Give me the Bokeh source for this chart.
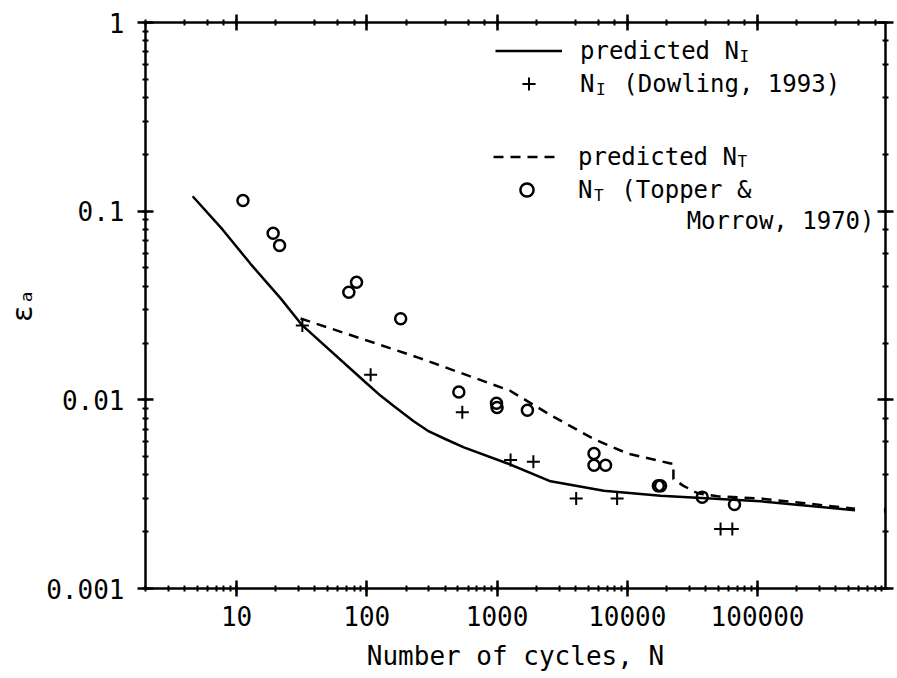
from bokeh.plotting import figure
from bokeh.models import (LogAxis, CustomJSTickFormatter, Legend, LegendItem, Label)
from bokeh.embed import file_html
from bokeh.resources import INLINE

# ---- data ----
solid_x = [4.6, 7.8, 12.8, 21.8, 32, 100, 128, 160, 229, 300, 400, 556, 1205, 2577, 6600, 18000, 105000, 560000]
solid_y = [0.120, 0.080, 0.0526, 0.0345, 0.0248, 0.0122, 0.0105, 0.0093, 0.0077, 0.0068, 0.0062, 0.0056, 0.0046, 0.0037, 0.0033, 0.0031, 0.0029, 0.0026]

dash_x = [31, 245, 1250, 2577, 5530, 10000, 21500, 22600, 22600, 27000, 34600, 49300, 105000, 560000]
dash_y = [0.027, 0.0168, 0.0112, 0.0083, 0.0062, 0.0052, 0.0046, 0.0046, 0.0038, 0.0035, 0.0032, 0.00308, 0.0030, 0.00265]

plus_x = [32, 107, 541, 1270, 1900, 4050, 8350, 52000, 64000]
plus_y = [0.0248, 0.0136, 0.0086, 0.0048, 0.0047, 0.0030, 0.0030, 0.00207, 0.00207]

circ_x = [11.2, 19.1, 21.4, 72.8, 83.4, 182, 509, 990, 1000, 1710, 5550, 5550, 6810, 17300, 18000, 37600, 66500, 1.05e6]
circ_y = [0.114, 0.0764, 0.0658, 0.0372, 0.042, 0.0269, 0.0110, 0.0096, 0.0091, 0.0088, 0.0052, 0.0045, 0.0045, 0.0035, 0.0035, 0.00305, 0.00279, 0.00259]

x_title = "Number of cycles, N"
y_title = "εₐ"
legend_labels = ["predicted N", "N  (Dowling, 1993)", "predicted N", "N  (Topper &"]
legend_subs = ["I", "I", "T", "T"]
legend_extra = "Morrow, 1970)"

FONT = "DejaVu Sans Mono"

p = figure(width=897, height=678, x_axis_type="log", y_axis_type="log",
           x_range=(2, 9.6e5), y_range=(0.001, 1),
           output_backend="svg", toolbar_location=None,
           min_border_left=145, min_border_right=12, min_border_top=22, min_border_bottom=90)
p.grid.visible = False
p.outline_line_color = None
p.background_fill_color = "white"
p.border_fill_color = "white"

fmt_js = "return String(Number(tick.toPrecision(10)));"

def style_axis(ax, labels=True, out=8):
    ax.axis_line_width = 2.5
    ax.axis_line_color = "black"
    ax.major_tick_line_width = 2.5
    ax.major_tick_line_color = "black"
    ax.minor_tick_line_width = 2
    ax.minor_tick_line_color = "black"
    ax.major_tick_in = 8
    ax.major_tick_out = out
    ax.minor_tick_in = 3
    ax.minor_tick_out = 3
    if labels:
        ax.formatter = CustomJSTickFormatter(code=fmt_js)
        ax.major_label_text_font = FONT
        ax.major_label_text_font_size = "26px"
        ax.major_label_text_color = "black"
        ax.axis_label_text_font = FONT
        ax.axis_label_text_font_style = "normal"
        ax.axis_label_text_color = "black"
    else:
        ax.formatter = CustomJSTickFormatter(code="return '';")
        ax.major_label_text_font_size = "0px"
        ax.major_label_standoff = 0

xa = p.xaxis[0]
ya = p.yaxis[0]
style_axis(xa)
style_axis(ya)
xa.axis_label = x_title
ya.axis_label = y_title
xa.axis_label_text_font_size = "26px"
ya.axis_label_text_font_size = "28px"
xa.major_label_standoff = 9
xa.axis_label_standoff = 12
ya.major_label_standoff = 13
ya.axis_label_standoff = 4

top = LogAxis()
right = LogAxis()
style_axis(top, labels=False, out=8)
style_axis(right, labels=False, out=8)
p.add_layout(top, "above")
p.add_layout(right, "right")

r_solid = p.line(solid_x, solid_y, line_width=2.5, line_color="black")
r_dash = p.line(dash_x, dash_y, line_width=2.5, line_color="black", line_dash="10 7")
r_plus = p.scatter(plus_x, plus_y, marker="cross", size=13, line_width=2, line_color="black")
r_circ = p.scatter(circ_x, circ_y, marker="circle", size=11, line_width=2.5,
                   line_color="black", fill_color=None)

def make_legend(items, loc):
    lg = Legend(items=items, location=loc, padding=0, margin=0, spacing=0,
                border_line_color=None, background_fill_alpha=0,
                glyph_width=67, glyph_height=33, label_height=33, label_standoff=18,
                label_text_font=FONT, label_text_font_size="24px", label_text_color="black")
    return lg

leg1 = make_legend([LegendItem(label=legend_labels[0], renderers=[r_solid]),
                    LegendItem(label=legend_labels[1], renderers=[r_plus])], (350, 488))
leg2 = make_legend([LegendItem(label=legend_labels[2], renderers=[r_dash]),
                    LegendItem(label=legend_labels[3], renderers=[r_circ])], (348, 382))
p.add_layout(leg1)
p.add_layout(leg2)

pitch = 0.602 * 24
text_x0 = 350 + 67 + 18
sub_pos = [(text_x0 + 11 * pitch, 532), (text_x0 + pitch + 1, 499),
           (text_x0 - 2 + 11 * pitch, 427), (text_x0 - 2 + pitch + 1, 393)]
for (sx, sy), s in zip(sub_pos, legend_subs):
    p.add_layout(Label(x=sx, y=sy, x_units="screen", y_units="screen", text=s,
                       text_font=FONT, text_font_size="16px", text_color="black",
                       text_baseline="middle", text_align="left"))

p.add_layout(Label(x=729, y=368, x_units="screen", y_units="screen", text=legend_extra,
                   text_font=FONT, text_font_size="24px", text_color="black",
                   text_baseline="middle", text_align="right"))

open("out.html", "w").write(file_html(p, INLINE))
